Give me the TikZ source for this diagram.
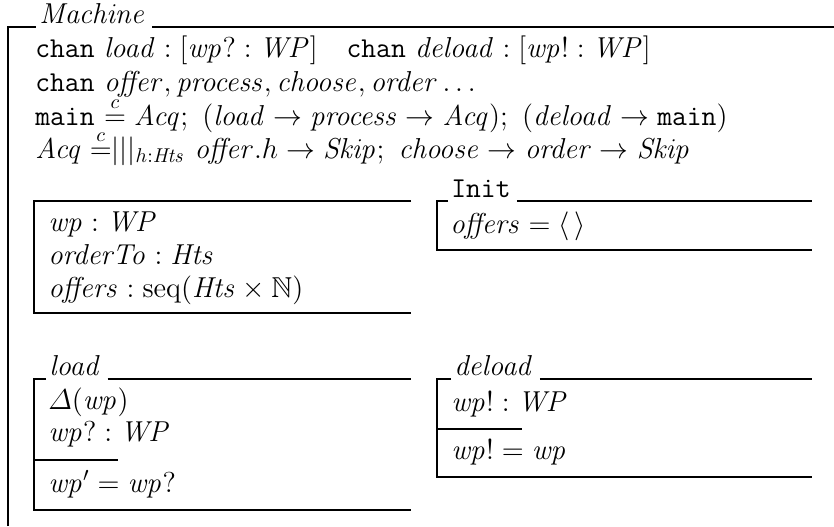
\documentclass[tikz,border=0pt]{standalone}
\usepackage{amsmath,amssymb}
\begin{document}
\begin{tikzpicture}[x=0.5pt,y=-0.5pt,line width=1.3pt,
  txt/.style={anchor=base west,inner sep=0pt,font=\fontsize{14.4}{17.28}\selectfont},
  ttl/.style={txt}]
\useasboundingbox (0,0) rectangle (834,526);
% outer schema
\node[ttl] (mt) at (38,23) {$\mathit{Machine}$};
\draw (8,526) -- (8,27) -- (36,27);
\draw (mt.east |- 0,27) ++(5,0) -- (834,27);
\node[txt] (h1) at (34,57) {\texttt{chan} $\mathit{load} : [\mathit{wp}? : \mathit{WP}]$\quad \texttt{chan} $\mathit{deload} : [\mathit{wp}! : \mathit{WP}]$};
\node[txt] (h2) at (34,91) {\texttt{chan} $\mathit{offer}, \mathit{process}, \mathit{choose}, \mathit{order} \ldots$};
\node[txt] (h3) at (34,125) {\texttt{main} $\stackrel{c}{=} \mathit{Acq};\ (\mathit{load} \rightarrow \mathit{process} \rightarrow \mathit{Acq});\ (\mathit{deload} \rightarrow \texttt{main})$};
\node[txt] (h4) at (34,158) {$\mathit{Acq}\;{\stackrel{c}{=}}|||_{h:\mathit{Hts}}\ \mathit{offer}.h \rightarrow \mathit{Skip};\ \mathit{choose} \rightarrow \mathit{order} \rightarrow \mathit{Skip}$};
% state box
\draw (411,201) -- (34,201) -- (34,313) -- (411,313);
\node[txt] (s1) at (47,231) {$\mathit{wp} : \mathit{WP}$};
\node[txt] (s2) at (47,264) {$\mathit{orderTo} : \mathit{Hts}$};
\node[txt] (s3) at (47,297) {$\mathit{offers} : \mathrm{seq}(\mathit{Hts} \times \mathbb{N})$};
% Init
\node[ttl] (it) at (450,197) {\texttt{Init}};
\draw (448,201) -- (437,201) -- (437,250) -- (812,250);
\draw (it.east |- 0,201) ++(5,0) -- (812,201);
\node[txt] (i1) at (449,233) {$\mathit{offers} = \langle\,\rangle$};
% load
\node[ttl] (lt) at (48,375) {$\mathit{load}$};
\draw (46,379) -- (34,379) -- (34,510) -- (411,510);
\draw (lt.east |- 0,379) ++(5,0) -- (411,379);
\draw (34,460) -- (118,460);
\node[txt] (l1) at (47,409) {$\varDelta(\mathit{wp})$};
\node[txt] (l2) at (47,441) {$\mathit{wp}? : \mathit{WP}$};
\node[txt] (l3) at (47,492) {$\mathit{wp}' = \mathit{wp}?$};
% deload
\node[ttl] (dt) at (453,375) {$\mathit{deload}$};
\draw (451,379) -- (437,379) -- (437,477) -- (812,477);
\draw (dt.east |- 0,379) ++(5,0) -- (812,379);
\draw (437,429) -- (522,429);
\node[txt] (d1) at (450,411) {$\mathit{wp}! : \mathit{WP}$};
\node[txt] (d2) at (450,459) {$\mathit{wp}! = \mathit{wp}$};
\end{tikzpicture}
\end{document}
